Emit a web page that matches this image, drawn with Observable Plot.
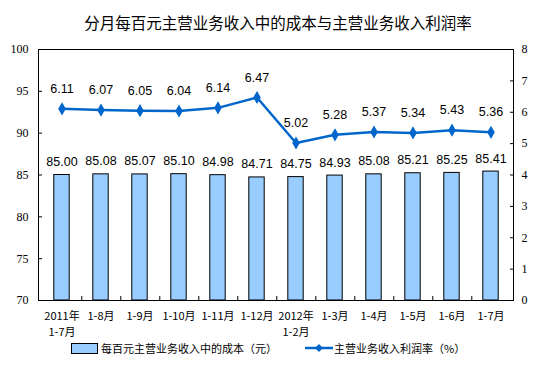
<!DOCTYPE html>
<html><head><meta charset="utf-8">
<script src="https://cdn.jsdelivr.net/npm/d3@7"></script>
<script src="https://cdn.jsdelivr.net/npm/@observablehq/plot@0.6"></script>
<style>
body{margin:0;background:#fff;width:554px;height:371px;overflow:hidden;font-family:"Noto Sans CJK SC",sans-serif;}
#title{height:40px;line-height:44px;text-align:center;font-size:15.5px;color:#000;padding-left:2px;}
#legend{position:absolute;top:338px;left:0;width:554px;height:20px;font-size:11px;color:#000;}
.lg{position:absolute;top:0;display:flex;align-items:center;height:20px;}
</style></head>
<body>
<div id="title">分月每百元主营业务收入中的成本与主营业务收入利润率</div>
<div id="chart"></div>
<div id="legend">
  <div class="lg" style="left:71px"><span style="display:inline-block;width:25px;height:9px;background:#99CCFF;border:1px solid #000;margin-right:3px"></span>每百元主营业务收入中的成本（元）</div>
  <div class="lg" style="left:305px"><svg width="28" height="10" style="margin-right:1px"><line x1="0" y1="5" x2="28" y2="5" stroke="#0066CC" stroke-width="2.5"/><path d="M14,1 L18,5 L14,9 L10,5Z" fill="#0066CC"/></svg>主营业务收入利润率（%）</div>
</div>
<script>
const categories = ["2011年\n1-7月","1-8月","1-9月","1-10月","1-11月","1-12月","2012年\n1-2月","1-3月","1-4月","1-5月","1-6月","1-7月"];
const costValues = [85.00,85.08,85.07,85.10,84.98,84.71,84.75,84.93,85.08,85.21,85.25,85.41];
const rateValues = [6.11,6.07,6.05,6.04,6.14,6.47,5.02,5.28,5.37,5.34,5.43,5.36];
const leftTicks = [70,75,80,85,90,95,100];
const rightTicks = [0,1,2,3,4,5,6,7,8];

const rateToLeft = d3.scaleLinear([0,8],[70,100]);
const data = categories.map((c,i)=>({cat:c, cost:costValues[i], rate:rateValues[i], rateY:rateToLeft(rateValues[i])}));

const W = 554, mL = 38, mR = 41;
const step = (W-mL-mR)/categories.length;
const numFont = "Liberation Sans, Arial, sans-serif";

const plot = Plot.plot({
  width: W, height: 295,
  marginLeft: mL, marginRight: mR, marginTop: 9, marginBottom: 35,
  style:{background:"#fff", overflow:"visible"},
  x:{type:"band", domain:categories, padding:0},
  y:{domain:[70,100]},
  marks:[
    Plot.barY(data,{x:"cat", y1:70, y2:"cost", fill:"#99CCFF", stroke:"#000", strokeWidth:1, insetLeft:11.8, insetRight:11.8}),
    Plot.frame({stroke:"#000", strokeWidth:1}),
    Plot.axisY({ticks:leftTicks, tickSize:-4, tickPadding:14, fontSize:12, fontFamily:"Liberation Serif, Times New Roman, serif", label:null, stroke:"#000"}),
    Plot.axisY({anchor:"right", ticks:rightTicks.map(v=>rateToLeft(v)), tickFormat:(v)=>String(Math.round(rateToLeft.invert(v))), tickSize:-4, tickPadding:12, fontSize:12, fontFamily:"Liberation Serif, Times New Roman, serif", label:null}),
    Plot.axisX({ticks:categories.slice(0,-1), tickSize:-4, tickFormat:()=>"", dx:step/2, label:null}),
    Plot.axisX({tickSize:0, tickPadding:9, fontSize:11, fontFamily:"Noto Sans CJK SC, sans-serif", lineHeight:1.4, label:null}),
    Plot.text(data,{x:"cat", y:"cost", text:d=>d.cost.toFixed(2), dy:-13, fontSize:12.5, fontFamily:numFont, fill:"#000"}),
    Plot.line(data,{x:"cat", y:"rateY", stroke:"#0066CC", strokeWidth:2.5}),
    Plot.dot(data,{x:"cat", y:"rateY", symbol:"diamond", fill:"#0066CC", r:4}),
    Plot.text(data,{x:"cat", y:"rateY", text:d=>d.rate.toFixed(2), dy:-20, fontSize:12.5, fontFamily:numFont, fill:"#000"})
  ]
});
document.getElementById("chart").appendChild(plot);
</script>
</body></html>
